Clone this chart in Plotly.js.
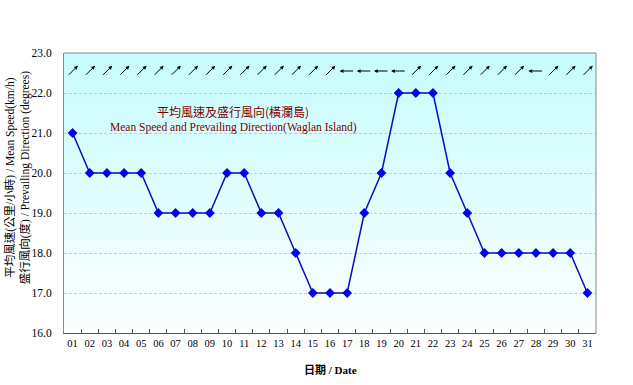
<!DOCTYPE html>
<html>
<head>
<meta charset="utf-8">
<script src="https://cdn.plot.ly/plotly-3.0.1.min.js"></script>
<style>html,body{margin:0;padding:0;background:#fff;}#chart{width:633px;height:385px;}</style>
</head>
<body>
<div id="chart"></div>
<script>
// Dates (day of month)
const dayLabels = ["01","02","03","04","05","06","07","08","09","10","11","12","13","14","15","16","17","18","19","20","21","22","23","24","25","26","27","28","29","30","31"];
// Mean wind speed (km/h)
const meanSpeed = [21,20,20,20,20,19,19,19,19,20,20,19,19,18,17,17,17,19,20,22,22,22,20,19,18,18,18,18,18,18,17];
// Prevailing wind direction (degrees, direction wind blows from)
const prevailingDir = [225,225,225,225,225,225,225,225,225,225,225,225,225,225,225,225,90,90,90,90,225,225,225,225,225,225,225,90,225,225,225];

const titleZh = "平均風速及盛行風向(橫瀾島)";
const titleEn = "Mean Speed and Prevailing Direction(Waglan Island)";
const yTitle1 = "平均風速(公里/小時) / Mean Speed(km/h)";
const yTitle2 = "盛行風向(度) / Prevailing Direction (degrees)";
const xTitle = "日期 / Date";

const serif = "Liberation Serif, Times New Roman, Noto Sans CJK TC, serif";
const arrowRowY = 22.55;
const arrowLen = 15;

const annotations = [];
prevailingDir.forEach((d, i) => {
  const toward = (d + 180) * Math.PI / 180;
  const dx = Math.sin(toward), dy = -Math.cos(toward);
  annotations.push({
    x: i, y: arrowRowY, xref: 'x', yref: 'y',
    showarrow: true, text: '',
    ax: -arrowLen * dx, ay: -arrowLen * dy,
    xshift: arrowLen / 2 * dx, yshift: -arrowLen / 2 * dy,
    arrowhead: 2, arrowsize: 0.75, arrowwidth: 1, arrowcolor: '#000'
  });
});
annotations.push({
  xref: 'paper', yref: 'paper', x: 0.318, y: 0.79, xanchor: 'center', yanchor: 'middle',
  showarrow: false, text: titleZh,
  font: {family: "Noto Sans CJK TC, serif", size: 12, color: '#800000'}
});
annotations.push({
  xref: 'paper', yref: 'paper', x: 0.318, y: 0.735, xanchor: 'center', yanchor: 'middle',
  showarrow: false, text: titleEn,
  font: {family: serif, size: 11.5, color: '#800000'}
});
annotations.push({
  xref: 'paper', yref: 'paper', x: -0.087, y: 0.555, xanchor: 'center', yanchor: 'middle',
  showarrow: false, textangle: -90, text: yTitle1 + "<br>" + yTitle2,
  font: {family: serif, size: 11.5, color: '#000'}
});
annotations.push({
  xref: 'paper', yref: 'paper', x: 0.5, y: -0.1, xanchor: 'center', yanchor: 'top',
  showarrow: false, text: "<b>" + xTitle + "</b>",
  font: {family: serif, size: 11, color: '#000'}
});

const svg = "<svg xmlns='http://www.w3.org/2000/svg' width='10' height='100' preserveAspectRatio='none'><defs><linearGradient id='g' x1='0' y1='0' x2='0' y2='1'><stop offset='0' stop-color='#c6fcfc'/><stop offset='1' stop-color='#fbfffe'/></linearGradient></defs><rect width='10' height='100' fill='url(#g)'/></svg>";

const trace = {
  type: 'scatter', mode: 'lines+markers',
  x: dayLabels, y: meanSpeed,
  line: {color: '#0a0ac0', width: 1.5},
  marker: {symbol: 'diamond', size: 7.5, color: '#0000f0'},
  hoverinfo: 'none', cliponaxis: false
};

const layout = {
  width: 633, height: 385,
  margin: {l: 64, r: 37, t: 53, b: 52, pad: 0},
  paper_bgcolor: '#fff', plot_bgcolor: 'rgba(0,0,0,0)',
  showlegend: false,
  font: {family: serif, size: 11, color: '#000'},
  xaxis: {
    type: 'category', range: [-0.5, dayLabels.length - 0.5], autorange: false,
    tickson: 'boundaries', ticks: 'inside', ticklen: 4, tickcolor: '#555', tickangle: 0,
    showgrid: false, showline: true, linecolor: '#555', linewidth: 1, mirror: false,
    tickfont: {family: serif, size: 10.5, color: '#000'}, zeroline: false
  },
  yaxis: {
    range: [16, 23], autorange: false, dtick: 1, tickformat: '.1f', ticks: '', showgrid: true,
    gridcolor: '#c4cccc', griddash: '3px,2px', gridwidth: 1,
    showline: true, linecolor: '#888', linewidth: 1, zeroline: false,
    tickfont: {family: serif, size: 11.5, color: '#000'}, ticklabelstandoff: 9
  },
  shapes: [
    {type: 'line', xref: 'paper', yref: 'paper', x0: 0, x1: 1, y0: 1, y1: 1, line: {color: '#888', width: 1}},
    {type: 'line', xref: 'paper', yref: 'paper', x0: 1, x1: 1, y0: 0, y1: 1, line: {color: '#888', width: 1}}
  ],
  images: [{
    source: 'data:image/svg+xml;base64,' + btoa(svg),
    xref: 'paper', yref: 'paper', x: 0, y: 1, sizex: 1, sizey: 1,
    xanchor: 'left', yanchor: 'top', sizing: 'stretch', layer: 'below'
  }],
  annotations: annotations
};

Plotly.newPlot('chart', [trace], layout, {displayModeBar: false, staticPlot: true});
</script>
</body>
</html>
